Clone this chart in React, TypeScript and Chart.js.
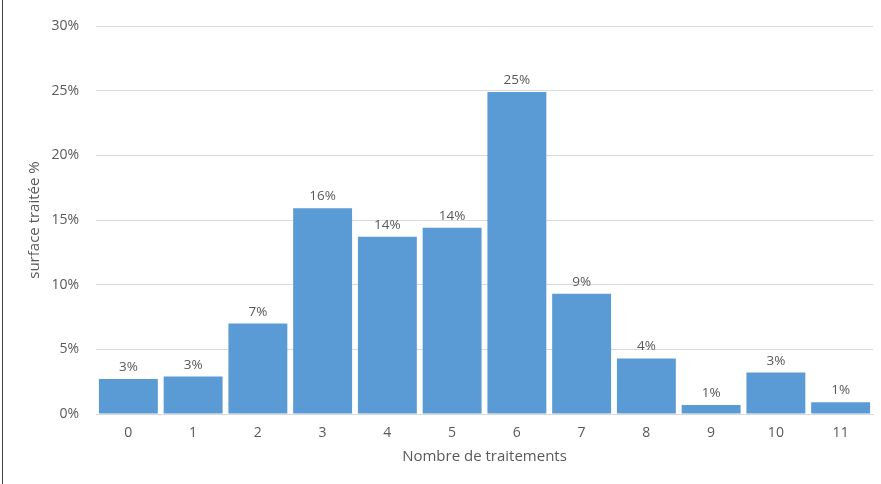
import React, { useEffect, useRef } from "react";
import { Chart, registerables } from "chart.js";

Chart.register(...registerables);

const categories = ["0", "1", "2", "3", "4", "5", "6", "7", "8", "9", "10", "11"];
const surfaceValues = [2.7, 2.9, 7.0, 15.9, 13.7, 14.4, 24.9, 9.3, 4.3, 0.7, 3.2, 0.9];
const yTicks = [0, 5, 10, 15, 20, 25, 30];
const yTitle = "surface traitée %";
const xTitle = "Nombre de traitements";

const FONT = "'Open Sans', 'DejaVu Sans', sans-serif";
const TEXT = "#595959";

const labelPlugin = {
  id: "barLabels",
  afterDatasetsDraw(chart: any) {
    const ctx = chart.ctx;
    const meta = chart.getDatasetMeta(0);
    ctx.save();
    ctx.font = `13.5px ${FONT}`;
    ctx.fillStyle = TEXT;
    ctx.textAlign = "center";
    ctx.textBaseline = "bottom";
    meta.data.forEach((bar: any, i: number) => {
      const v = surfaceValues[i];
      ctx.fillText(`${Math.round(v)}%`, bar.x, bar.y - 5);
    });
    ctx.restore();
  },
};

export default function App() {
  const ref = useRef<HTMLCanvasElement>(null);
  useEffect(() => {
    if (!ref.current) return;
    const chart = new Chart(ref.current, {
      type: "bar",
      data: {
        labels: categories,
        datasets: [
          {
            data: surfaceValues,
            backgroundColor: "#5b9bd5",
            borderWidth: 0,
            barPercentage: 0.91,
            categoryPercentage: 1,
          },
        ],
      },
      options: {
        animation: false,
        responsive: false,
        maintainAspectRatio: false,
        layout: { padding: { left: 0, right: 8, top: 26, bottom: 0 } },
        plugins: { legend: { display: false }, tooltip: { enabled: false } },
        scales: {
          x: {
            grid: { display: false, drawTicks: false },
            border: { display: true, color: "#d9d9d9", width: 1 },
            ticks: { color: TEXT, font: { family: FONT, size: 14 }, padding: 11 },
            title: {
              display: true,
              text: xTitle,
              color: TEXT,
              font: { family: FONT, size: 15 },
              padding: { top: 4, bottom: 18 },
            },
            afterFit(axis: any) {
              axis.height = 70;
            },
          },
          y: {
            min: 0,
            max: 30,
            afterBuildTicks(axis: any) {
              axis.ticks = yTicks.map((v) => ({ value: v }));
            },
            grid: { color: "#d9d9d9", drawTicks: false },
            border: { display: false },
            ticks: {
              color: TEXT,
              font: { family: FONT, size: 14 },
              padding: 17,
              callback: (v: any) => `${v}%`,
            },
            title: {
              display: true,
              text: yTitle,
              color: TEXT,
              font: { family: FONT, size: 15 },
              padding: { top: 26, bottom: 4 },
            },
            afterFit(axis: any) {
              axis.width = 96;
            },
          },
        },
      },
      plugins: [labelPlugin],
    });
    return () => chart.destroy();
  }, []);
  return (
    <div style={{ position: "fixed", left: 0, top: 0, width: 881, height: 484, background: "#fff" }}>
      <canvas ref={ref} width={881} height={484} style={{ display: "block" }} />
      <div style={{ position: "absolute", left: 2, top: 0, width: 1, height: 484, background: "#404040" }} />
    </div>
  );
}
